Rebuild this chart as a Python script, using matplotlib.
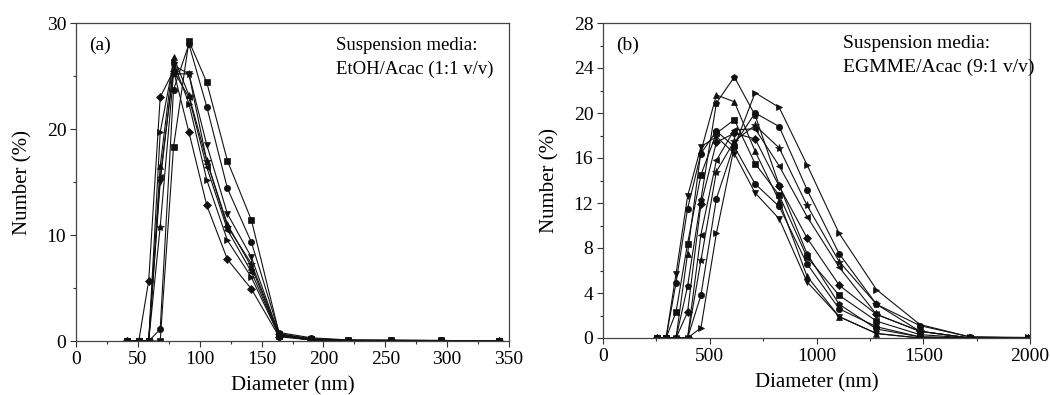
import matplotlib
matplotlib.use("Agg")
import matplotlib.pyplot as plt
from matplotlib.ticker import MultipleLocator

plt.rcParams["font.family"] = ["Liberation Serif", "DejaVu Serif"]

# size bins (nm)
bins_a = [41.0, 50.75, 58.77, 68.06, 78.82, 91.28, 105.7, 122.4, 141.8,
          164.2, 190.1, 220.2, 255.0, 295.3, 342.0]
bins_b = [255.0, 295.3, 342.0, 396.1, 458.7, 531.2, 615.1, 712.4, 825.0,
          955.4, 1106, 1281, 1484, 1718, 1990]

# panel (a): EtOH/Acac
a_square = [0, 0, 0, 0, 18.3, 28.3, 24.4, 17.0, 11.4, 0.7, 0.2, 0.1, 0.05, 0.05, 0]
a_circle = [0, 0, 0, 1.1, 23.7, 28.0, 22.1, 14.4, 9.3, 0.8, 0.3, 0.1, 0.1, 0.05, 0]
a_diamond = [0, 0, 5.7, 23.0, 25.5, 19.7, 12.8, 7.7, 4.9, 0.4, 0.1, 0, 0, 0, 0]
a_down = [0, 0, 0, 15.0, 26.0, 25.2, 18.5, 12.0, 7.9, 0.6, 0.2, 0, 0, 0, 0]
a_up = [0, 0, 0, 16.5, 26.8, 23.2, 17.0, 11.0, 7.0, 0.5, 0.1, 0, 0, 0, 0]
a_right = [0, 0, 0, 19.7, 26.3, 22.4, 15.2, 9.5, 6.0, 0.5, 0.1, 0, 0, 0, 0]
a_left = [0, 0, 0, 15.5, 25.5, 23.0, 16.4, 10.5, 6.5, 0.5, 0.1, 0, 0, 0, 0]
a_star = [0, 0, 0, 10.8, 25.2, 25.2, 17.0, 10.8, 7.3, 0.6, 0.2, 0, 0, 0, 0]

# panel (b): EGMME/Acac
b_down = [0, 0, 5.7, 12.6, 17.0, 17.9, 16.4, 12.9, 10.6, 5.0, 1.9, 0.4, 0, 0, 0]
b_circle1 = [0, 0, 4.9, 11.5, 16.4, 18.4, 17.0, 13.7, 11.7, 6.6, 2.6, 1.0, 0.1, 0, 0]
b_square = [0, 0, 2.3, 8.4, 14.5, 18.2, 19.4, 15.5, 12.7, 7.2, 3.8, 1.5, 0.3, 0, 0]
b_up = [0, 0, 0, 7.5, 16.6, 21.6, 21.0, 16.6, 12.2, 5.5, 1.9, 0.4, 0, 0, 0]
b_pent = [0, 0, 0, 4.6, 12.3, 20.9, 23.2, 19.8, 13.6, 7.5, 3.0, 0.8, 0.1, 0, 0]
b_diamond = [0, 0, 0, 2.3, 11.9, 17.4, 18.2, 17.7, 13.5, 8.9, 4.7, 2.1, 0.6, 0, 0]
b_left = [0, 0, 0, 0, 9.2, 15.8, 18.5, 18.6, 15.3, 10.8, 6.3, 2.1, 0.6, 0, 0]
b_star = [0, 0, 0, 0, 6.9, 14.8, 17.5, 18.9, 16.9, 11.8, 6.8, 3.0, 0.6, 0, 0]
b_circle2 = [0, 0, 0, 0, 3.8, 12.4, 17.2, 20.0, 18.8, 13.2, 7.5, 3.0, 1.1, 0.1, 0]
b_right = [0, 0, 0, 0, 0.9, 9.3, 17.0, 21.8, 20.5, 15.4, 9.3, 4.3, 1.2, 0.1, 0.05]

series_a = [(a_square, "s"), (a_circle, "o"), (a_diamond, "D"), (a_down, "v"),
            (a_up, "^"), (a_right, ">"), (a_left, "<"), (a_star, "*")]
series_b = [(b_down, "v"), (b_circle1, "o"), (b_square, "s"), (b_up, "^"),
            (b_pent, "p"), (b_diamond, "D"), (b_left, "<"), (b_star, "*"),
            (b_circle2, "o"), (b_right, ">")]

fig = plt.figure(figsize=(10.5, 3.95), dpi=100)
ax1 = fig.add_axes([76 / 1050, 54 / 395, 433 / 1050, 318 / 395])
ax2 = fig.add_axes([603 / 1050, 57 / 395, 427 / 1050, 315 / 395])


def draw(ax, x, series):
    for y, m in series:
        ms = 6 if m == "*" else 4.5
        if m == "D":
            ms = 4
        ax.plot(x, y, color="#111111", lw=0.8, marker=m, ms=ms,
                markeredgewidth=0.5)


draw(ax1, bins_a, series_a)
draw(ax2, bins_b, series_b)

ax1.set_xlim(0, 350)
ax1.set_ylim(0, 30)
ax1.xaxis.set_major_locator(MultipleLocator(50))
ax1.xaxis.set_minor_locator(MultipleLocator(25))
ax1.yaxis.set_major_locator(MultipleLocator(10))
ax1.yaxis.set_minor_locator(MultipleLocator(5))

ax2.set_xlim(0, 2000)
ax2.set_ylim(0, 28)
ax2.xaxis.set_major_locator(MultipleLocator(500))
ax2.xaxis.set_minor_locator(MultipleLocator(250))
ax2.yaxis.set_major_locator(MultipleLocator(4))
ax2.yaxis.set_minor_locator(MultipleLocator(2))

for ax in (ax1, ax2):
    ax.tick_params(which="both", direction="out", labelsize=14,
                   top=False, right=False, width=0.8, color="#333333")
    ax.tick_params(which="major", length=4, pad=3)
    ax.tick_params(which="minor", length=2.5)
    for s in ax.spines.values():
        s.set_linewidth(0.9)
        s.set_color("#444444")
    ax.set_xlabel("Diameter (nm)", fontsize=15, labelpad=6)
    ax.set_ylabel("Number (%)", fontsize=15, labelpad=10)

ax1.text(0.03, 0.93, "(a)", transform=ax1.transAxes, fontsize=14, va="center")
ax1.text(0.60, 0.93, "Suspension media:", transform=ax1.transAxes,
         fontsize=13.5, va="center")
ax1.text(0.60, 0.855, "EtOH/Acac (1:1 v/v)", transform=ax1.transAxes,
         fontsize=13.5, va="center")

ax2.text(0.03, 0.93, "(b)", transform=ax2.transAxes, fontsize=14, va="center")
ax2.text(0.562, 0.935, "Suspension media:", transform=ax2.transAxes,
         fontsize=14, va="center")
ax2.text(0.562, 0.86, "EGMME/Acac (9:1 v/v)", transform=ax2.transAxes,
         fontsize=14, va="center")

fig.savefig("out.png", dpi=100)
